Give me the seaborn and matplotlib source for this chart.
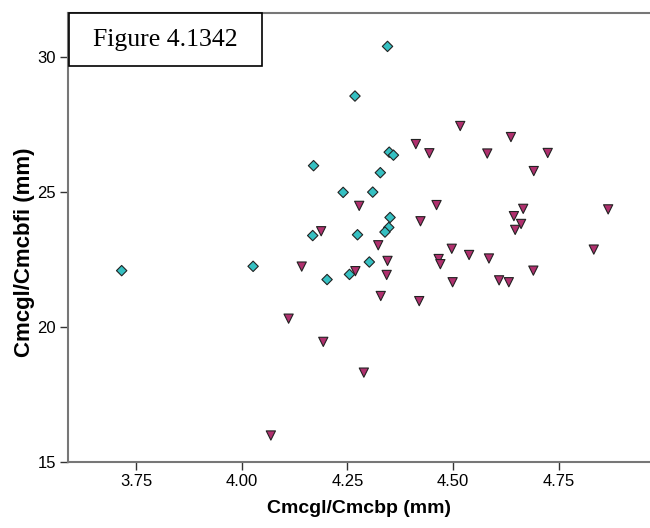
import matplotlib
matplotlib.use("Agg")
import matplotlib.pyplot as plt
from matplotlib.patches import Rectangle
import seaborn as sns
import pandas as pd

# grupo 1 (losangos)
x_grupo1 = [3.716, 4.027, 4.345, 4.268, 4.170, 4.240, 4.168, 4.274, 4.349,
            4.359, 4.328, 4.310, 4.351, 4.348, 4.339, 4.302, 4.255, 4.202]
y_grupo1 = [22.08, 22.24, 30.39, 28.55, 25.97, 24.98, 23.38, 23.41, 26.47,
            26.36, 25.71, 24.99, 24.05, 23.68, 23.51, 22.40, 21.94, 21.75]

# grupo 2 (triangulos)
x_grupo2 = [4.517, 4.637, 4.412, 4.444, 4.581, 4.724, 4.691, 4.278, 4.461,
            4.666, 4.867, 4.644, 4.423, 4.661, 4.647, 4.188, 4.323, 4.497,
            4.833, 4.538, 4.585, 4.466, 4.470, 4.345, 4.142, 4.690, 4.269,
            4.343, 4.499, 4.609, 4.632, 4.329, 4.420, 4.111, 4.193, 4.289,
            4.069]
y_grupo2 = [27.44, 27.03, 26.77, 26.43, 26.42, 26.44, 25.77, 24.48, 24.51,
            24.37, 24.35, 24.10, 23.91, 23.81, 23.59, 23.54, 23.02, 22.89,
            22.86, 22.66, 22.53, 22.51, 22.32, 22.44, 22.23, 22.08, 22.06,
            21.92, 21.65, 21.72, 21.65, 21.14, 20.95, 20.30, 19.44, 18.30,
            15.97]

x_ticks = [3.75, 4.00, 4.25, 4.50, 4.75]
y_ticks = [15, 20, 25, 30]

df = pd.DataFrame({
    "x": x_grupo1 + x_grupo2,
    "y": y_grupo1 + y_grupo2,
    "grupo": ["1"] * len(x_grupo1) + ["2"] * len(x_grupo2),
})

sns.set_style("white")
plt.rcParams['font.family'] = ['Liberation Sans', 'DejaVu Sans']

fig = plt.figure(figsize=(6.5, 5.28), dpi=100)
ax = fig.add_axes([0.1051, 0.1256, 0.8949, 0.8504])

sns.scatterplot(data=df, x="x", y="y", hue="grupo", style="grupo",
                palette={"1": "#35C0C2", "2": "#B0306E"},
                markers={"1": "D", "2": "v"},
                size="grupo", sizes={"1": 28, "2": 44},
                edgecolor="#222222", linewidth=0.8, legend=False, ax=ax)

ax.set_xlim(3.5898, 4.966)
ax.set_ylim(15, 31.64)
ax.set_xticks(x_ticks)
ax.set_xticklabels([f"{v:.2f}" for v in x_ticks])
ax.set_yticks(y_ticks)
ax.tick_params(axis="both", direction="out", length=6, width=1,
               color="#333333", labelsize=12, labelcolor="black", pad=3,
               bottom=True, left=True)

for lado in ["left", "bottom", "top"]:
    ax.spines[lado].set_color("#777777")
    ax.spines[lado].set_linewidth(1.5)
ax.spines["right"].set_visible(False)

ax.set_xlabel("Cmcgl/Cmcbp (mm)", fontsize=14, fontweight="bold",
              color="black", labelpad=8)
ax.set_ylabel("Cmcgl/Cmcbfi (mm)", fontsize=16, fontweight="bold",
              color="black")
ax.yaxis.set_label_coords(-0.058, 0.467)

# caixa do titulo (coordenadas em pixels da figura)
W, H = 650, 528
caixa = Rectangle((69 / W, 1 - 66 / H), (262 - 69) / W, (66 - 12.7) / H,
                  transform=fig.transFigure, facecolor="white",
                  edgecolor="black", linewidth=1.2, zorder=10)
fig.patches.append(caixa)
fig.text((69 + 262) / 2 / W, 1 - 40 / H, "Figure 4.1342",
         family="Liberation Serif", fontsize=18.5, ha="center", va="center",
         color="black", zorder=11)

fig.savefig("out.png", dpi=100)
